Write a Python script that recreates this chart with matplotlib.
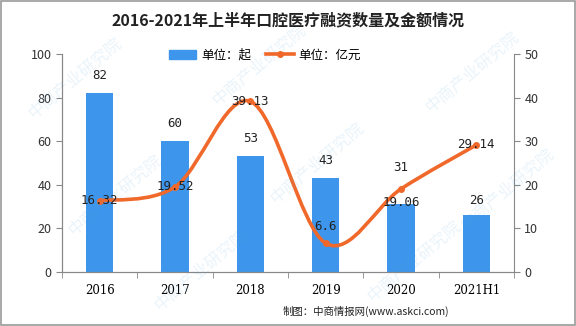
import numpy as np
import matplotlib.pyplot as plt
from matplotlib.path import Path
from matplotlib.patches import PathPatch, Rectangle

plt.rcParams['font.family'] = ['Noto Sans CJK SC', 'DejaVu Sans']

years = ["2016", "2017", "2018", "2019", "2020", "2021H1"]
counts = [82, 60, 53, 43, 31, 26]          # 单位：起
amounts = [16.32, 19.52, 39.13, 6.6, 19.06, 29.14]  # 单位：亿元

bar_color = "#3d96eb"
line_color = "#f0682a"

fig = plt.figure(figsize=(5.76, 3.26), dpi=100)
ax = fig.add_axes([62 / 576, 54 / 326, 452 / 576, 218 / 326])
ax2 = ax.twinx()

x = np.arange(len(years))
ax.bar(x, counts, width=0.36, color=bar_color, zorder=2)
ax.set_xlim(-0.5, len(years) - 0.5)
ax.set_ylim(0, 100)
ax.set_yticks(range(0, 101, 20))
ax2.set_ylim(0, 50)
ax2.set_yticks(range(0, 51, 10))
ax.set_xticks(x)
ax.set_xticklabels(years, family="DejaVu Serif", fontsize=8.5)
ax.set_xticks(np.arange(-0.5, len(years)), minor=True)
ax.tick_params(axis="x", which="major", length=0, pad=9)
ax.tick_params(axis="x", which="minor", length=4, color="#888888")

for a in (ax, ax2):
    for s in a.spines.values():
        s.set_color("#888888")
    a.spines["top"].set_visible(False)
    a.tick_params(axis="y", length=4, color="#888888", labelsize=9, labelcolor="#333333")
ax.spines["right"].set_visible(False)

# smooth curve through the points (Catmull-Rom as cubic Bezier)
pts = np.column_stack([x, amounts])
verts = [tuple(pts[0])]
codes = [Path.MOVETO]
for i in range(len(pts) - 1):
    p0 = pts[i - 1] if i > 0 else pts[i]
    p1, p2 = pts[i], pts[i + 1]
    p3 = pts[i + 2] if i + 2 < len(pts) else pts[i + 1]
    c1 = p1 + (p2 - p0) / 6
    c2 = p2 - (p3 - p1) / 6
    verts += [tuple(c1), tuple(c2), tuple(p2)]
    codes += [Path.CURVE4] * 3
ax2.add_patch(PathPatch(Path(verts, codes), fill=False, edgecolor=line_color, lw=2.6, zorder=3))
ax2.plot(x, amounts, "o", color=line_color, ms=4, zorder=4)

# value labels
for xi, v in zip(x, counts):
    dy = {4: 22}.get(xi, 8 if v > 40 else 6)
    ax.annotate(str(v), (xi, v), xytext=(0, dy), textcoords="offset points",
                ha="center", va="bottom", fontsize=9, family="DejaVu Sans Mono", color="#222222")
amount_offsets = [0, 0, 0, 12, -10, 0]
for xi, v, dy in zip(x, amounts, amount_offsets):
    ax2.annotate(f"{v:g}", (xi, v), xytext=(0, dy), textcoords="offset points",
                 ha="center", va="center", fontsize=9, family="DejaVu Sans Mono", color="#222222", zorder=5)

# legend
handles = [Rectangle((0, 0), 1, 1, color=bar_color),
           plt.Line2D([], [], color=line_color, lw=2.6, marker="o", ms=4)]
fig.legend(handles, ["单位：起", "单位：亿元"], loc="center", bbox_to_anchor=(265 / 576, 1 - 55 / 326),
           ncol=2, frameon=False, fontsize=9, handlelength=2.2, columnspacing=1.2, handletextpad=0.4)

fig.text(0.5, 1 - 20 / 326, "2016-2021年上半年口腔医疗融资数量及金额情况", ha="center", va="center",
         fontsize=11.5, fontweight="bold", color="#222222")
fig.text(449 / 576, 1 - 311 / 326, "制图：中商情报网(www.askci.com)", ha="right", va="center",
         fontsize=7.5, color="#222222")

# faint watermark
for wx, wy in [(0.13, 0.76), (0.45, 0.8), (0.82, 0.78), (0.2, 0.4), (0.55, 0.5), (0.88, 0.42), (0.35, 0.17), (0.72, 0.2)]:
    fig.text(wx, wy, "中商产业研究院", rotation=40, ha="center", va="center", fontsize=12,
             color="#4fa3d8", alpha=0.12, zorder=0)

fig.patches.append(Rectangle((0.002, 0.003), 0.996, 0.994, transform=fig.transFigure,
                             fill=False, edgecolor="#999999", lw=1.2))

fig.savefig("out.png", dpi=100)
